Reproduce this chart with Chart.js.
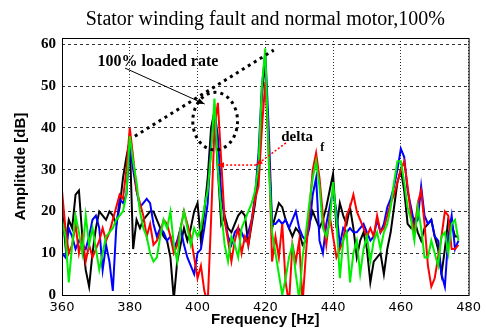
<!DOCTYPE html>
<html lang="en">
<head>
<meta charset="UTF-8">
<title>Stator winding fault and normal motor, 100%</title>
<script src="https://cdn.jsdelivr.net/npm/chart.js"></script>
<style>
    body { margin: 0; padding: 0; background: #fff; }
    #wrap { width: 486px; height: 329px; }
</style>
</head>
<body>
<div id="wrap"><canvas id="myChart" width="486" height="329"></canvas></div>
<script>
// spectrum bins, 1 Hz apart
const freqHz = Array.from({length: 118}, (_, i) => 360 + i);

// amplitudes in dB (360 .. 477 Hz)
const ampBlack = [
    21, 12, 18, 16, 24, 25, 14, 6, 2, 10,
    16, 20, 19, 18, 20, 19, 17, 21, 28, 33,
    37, 11, 18, 16, 18, 19, 20, 20, 18, 16,
    14, 13, 9, -1, 8, 12, 16, 13, 16, 20,
    22, 13, 20, 28, 40, 44, 30, 17, 19, 16,
    15, 17, 19, 20, 19, 12, 17, 22, 30, 48,
    56, 35, 16, 19, 22, 21, 18, 16, 14, 16,
    15, 12, 13, 17, 20, 18, 16, 18, 21, 25,
    29, 16, 22, 19, 17, 21, 16, 9, 13, 15,
    11, 3, 8, 9, 10, 5, 11, 15, 21, 27,
    30, 25, 17, 16, 18, 15, 13, 16, 17, 18,
    14, 11, 5, 11, 18, 17, 14, 14
];
const ampBlue = [
    10, 9, 16, 14, 11, 13, 12, 11, 14, 18,
    19, 16, 6, 12, 8, 1, 16, 23, 22, 24,
    36, 30, 25, 21, 22, 23, 22, 17, 14, 16,
    15, 13, 14, 11, 13, 16, 12, 9, 7, 5,
    10, 11, 16, 22, 36, 44, 38, 24, 18, 14,
    12, 15, 16, 15, 13, 15, 18, 24, 34, 50,
    58, 40, 17, 17, 18, 17, 18, 16, 18, 20,
    16, 14, 13, 16, 24, 28, 13, 10, 17, 21,
    25, 20, 12, 16, 15, 16, 15, 15, 16, 17,
    15, 13, 14, 18, 15, 17, 21, 23, 26, 30,
    35, 33, 25, 21, 17, 18, 26, 19, 17, 18,
    14, 13, 5, 2, 14, 19, 11, 13
];
const ampRed = [
    25, 16, 10, 12, 17, 10, 14, 8, 12, 9,
    11, 13, 16, 13, 15, 18, 21, 24, 23, 30,
    40, 33, 25, 22, 19, 14, 17, 12, 13, 15,
    18, 17, 14, 10, 12, 16, 20, 17, 14, 9,
    4, 7, 1, -2, 18, 40, 46, 32, 18, 13,
    8, 13, 16, 10, 14, 12, 18, 23, 26, 40,
    51, 36, 8, 14, 9, 17, 3, -2, 12, 8,
    13, -2, 10, 20, 30, 34, 28, 19, 12, 19,
    14, 9, 11, 13, 19, 21, 24, 20, 18, 16,
    14, 16, 14, 19, 15, 16, 19, 22, 24, 27,
    30, 32, 26, 19, 15, 22, 25, 17, 7, 2,
    4, 9, 14, 20, 19, 11, 11, 12
];
const ampGreen = [
    18, 14, 3, 12, 19, 15, 10, 19, 12, 16,
    11, 6, 10, 14, 15, 16, 18, 19, 20, 24,
    38, 32, 27, 20, 16, 14, 10, 8, 9, 14,
    18, 16, 20, 12, 8, 16, 20, 16, 12, 16,
    14, 16, 21, 25, 34, 47, 30, 20, 12, 8,
    14, 12, 9, 16, 18, 20, 22, 25, 31, 50,
    59, 32, 15, 10, 5, 0, 4, 9, 12, 5,
    -1, 9, 15, 22, 28, 32, 26, 16, 14, 17,
    27, 18, 4, 13, 15, 3, 10, 13, 5, 11,
    14, 8, 13, 15, 11, 15, 17, 21, 27, 32,
    32, 27, 21, 18, 13, 21, 16, 9, 9, 13,
    10, 7, 14, 15, 10, 17, 18, 13
];

const xTicks = [360, 380, 400, 420, 440, 460, 480];
const yTicks = [0, 10, 20, 30, 40, 50, 60];

// annotations, in Hz / dB
const loadLineX = [381.5, 422.5];
const loadLineY = [38, 58.6];
const circleCenter = [405.2, 41.6];
const circleRadius = [6.6, 6.9];
const loadArrow = [378.6, 54.3, 402.1, 45.7];
const deltaArrow = [426.1, 36.4, 417.3, 31.1];
const deltaSpan = [417.3, 31.1, 405.9, 31.1];

const titleText = 'Stator winding fault and normal motor,100%';

function toPoints(vals) {
    return freqHz.map((f, i) => ({x: f, y: vals[i]}));
}

function arrowHead(ctx, x1, y1, x2, y2, size) {
    const ang = Math.atan2(y2 - y1, x2 - x1);
    ctx.beginPath();
    ctx.moveTo(x2, y2);
    ctx.lineTo(x2 - size * Math.cos(ang - 0.4), y2 - size * Math.sin(ang - 0.4));
    ctx.lineTo(x2 - size * Math.cos(ang + 0.4), y2 - size * Math.sin(ang + 0.4));
    ctx.closePath();
    ctx.fill();
}

const extras = {
    id: 'extras',
    afterDatasetsDraw(chart) {
        const {ctx, scales: {x, y}} = chart;
        const px = v => x.getPixelForValue(v);
        const py = v => y.getPixelForValue(v);
        ctx.save();

        // dotted ellipse round the 405 Hz peak
        const cx = px(circleCenter[0]), cy = py(circleCenter[1]);
        const rx = px(circleCenter[0] + circleRadius[0]) - cx;
        const ry = cy - py(circleCenter[1] + circleRadius[1]);
        ctx.strokeStyle = '#000';
        ctx.lineWidth = 3;
        ctx.setLineDash([3, 4]);
        ctx.beginPath();
        ctx.ellipse(cx, cy, rx, ry, 0, 0, Math.PI * 2);
        ctx.stroke();

        // label arrow
        ctx.setLineDash([]);
        ctx.lineWidth = 1;
        ctx.fillStyle = '#000';
        let a = loadArrow.map((v, i) => i % 2 ? py(v) : px(v));
        ctx.beginPath();
        ctx.moveTo(a[0], a[1]);
        ctx.lineTo(a[2], a[3]);
        ctx.stroke();
        arrowHead(ctx, a[0], a[1], a[2], a[3], 8);

        // red delta arrows
        ctx.strokeStyle = '#ff0000';
        ctx.fillStyle = '#ff0000';
        ctx.lineWidth = 1.5;
        [deltaArrow, deltaSpan].forEach(d => {
            const p = d.map((v, i) => i % 2 ? py(v) : px(v));
            ctx.setLineDash([2, 2]);
            ctx.beginPath();
            ctx.moveTo(p[0], p[1]);
            ctx.lineTo(p[2], p[3]);
            ctx.stroke();
            ctx.setLineDash([]);
            arrowHead(ctx, p[0], p[1], p[2], p[3], 7);
        });

        // texts
        ctx.fillStyle = '#000';
        ctx.textBaseline = 'middle';
        ctx.textAlign = 'center';
        ctx.font = 'bold 16px "Liberation Serif"';
        ctx.fillText('100% loaded rate', px(388.3), py(55.7));
        ctx.textAlign = 'left';
        ctx.font = 'bold 15px "Liberation Serif"';
        ctx.fillText('delta', px(424.7), py(37.8));
        ctx.font = 'bold 12px "Liberation Serif"';
        ctx.fillText('f', px(436.2), py(35.2));
        ctx.restore();
    },
    afterDraw(chart) {
        const {ctx, chartArea: a} = chart;
        ctx.save();
        ctx.strokeStyle = '#000';
        ctx.lineWidth = 1;
        ctx.strokeRect(a.left + 0.5, a.top + 0.5, a.right - a.left, a.bottom - a.top);
        ctx.fillStyle = '#000';
        ctx.font = '20px "Liberation Serif"';
        ctx.textAlign = 'center';
        ctx.textBaseline = 'middle';
        ctx.fillText(titleText, (a.left + a.right) / 2, 20);
        ctx.restore();
    }
};

const lineStyle = (color, order) => ({
    borderColor: color,
    borderWidth: 2,
    pointRadius: 0,
    fill: false,
    tension: 0,
    order: order
});

const ctx = document.getElementById('myChart').getContext('2d');
const myChart = new Chart(ctx, {
    type: 'line',
    data: {
        datasets: [
            Object.assign({label: 'load line', data: loadLineX.map((v, i) => ({x: v, y: loadLineY[i]}))},
                lineStyle('#000', 0), {borderWidth: 3, borderDash: [3, 4]}),
            Object.assign({label: 'green', data: toPoints(ampGreen)}, lineStyle('#00ee00', 1)),
            Object.assign({label: 'red', data: toPoints(ampRed)}, lineStyle('#ff0000', 2)),
            Object.assign({label: 'blue', data: toPoints(ampBlue)}, lineStyle('#0000ff', 3)),
            Object.assign({label: 'black', data: toPoints(ampBlack)}, lineStyle('#000000', 4))
        ]
    },
    options: {
        responsive: false,
        animation: false,
        layout: { padding: { top: 38, right: 15, left: 0, bottom: 0 } },
        plugins: {
            legend: { display: false },
            tooltip: { enabled: false }
        },
        scales: {
            x: {
                type: 'linear',
                min: 360,
                max: 480,
                afterBuildTicks: s => { s.ticks = xTicks.map(v => ({value: v})); },
                afterFit: s => { s.height = 34; },
                grid: { color: 'rgba(0,0,0,0.8)', drawTicks: false },
                border: { display: false, dash: [1, 2] },
                ticks: {
                    padding: 5,
                    maxRotation: 0,
                    color: '#000',
                    font: { family: 'DejaVu Sans', size: 13 }
                },
                title: {
                    display: true,
                    text: 'Frequency [Hz]',
                    color: '#000',
                    padding: { top: 0, bottom: 0 },
                    font: { family: 'Liberation Sans', size: 15, weight: 'bold' }
                }
            },
            y: {
                min: 0,
                max: 61.5,
                afterBuildTicks: s => { s.ticks = yTicks.map(v => ({value: v})); },
                afterFit: s => { s.width = 62; },
                grid: { color: 'rgba(0,0,0,0.8)', drawTicks: false },
                border: { display: false, dash: [3, 3] },
                ticks: {
                    padding: 6,
                    color: '#000',
                    font: { family: 'Liberation Serif', size: 15, weight: 'bold' }
                },
                title: {
                    display: true,
                    text: 'Amplitude [dB]',
                    color: '#000',
                    padding: { top: 12, bottom: 0 },
                    font: { family: 'Liberation Sans', size: 15, weight: 'bold' }
                }
            }
        }
    },
    plugins: [extras]
});
</script>
</body>
</html>
